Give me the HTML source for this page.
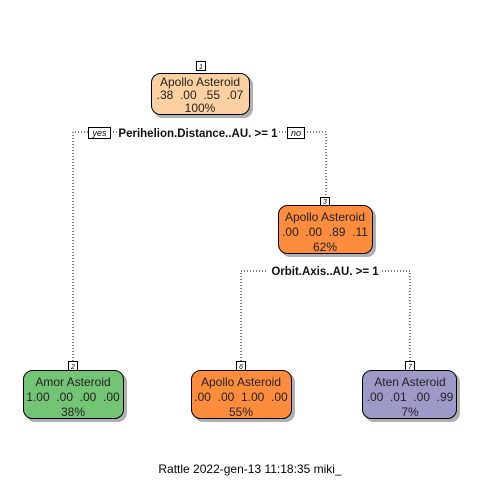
<!DOCTYPE html>
<html><head><style>body{margin:0;background:#fff}svg{display:block}text{white-space:pre}</style></head><body>
<svg width="480" height="480" viewBox="0 0 480 480" xmlns="http://www.w3.org/2000/svg" font-family="Liberation Sans, Arial, sans-serif">
<rect width="480" height="480" fill="#fff"/>
<g stroke="#000" stroke-dasharray="1,2" fill="none" stroke-width="1">
<path d="M73,361 V132 H88 M110,132 H118 M279,132 H287 M304,132 H326 V197"/>
<path d="M241,361 V271 H268 M382,271 H410 V361"/>
</g>
<g fill="#b0b0b0">
<rect x="154" y="76" width="99" height="42" rx="9"/>
<rect x="281" y="208" width="95" height="49" rx="9"/>
<rect x="26" y="373" width="101" height="49" rx="9"/>
<rect x="194" y="373" width="101" height="49" rx="9"/>
<rect x="365" y="373" width="95" height="49" rx="9"/>
</g>
<g stroke="#000" stroke-width="1">
<rect x="151.5" y="73.5" width="98" height="41" rx="9" fill="#FDD0A2"/>
<rect x="278.5" y="205.5" width="94" height="48" rx="9" fill="#FD8D3C"/>
<rect x="23.5" y="370.5" width="100" height="48" rx="9" fill="#74C476"/>
<rect x="191.5" y="370.5" width="100" height="48" rx="9" fill="#FD8D3C"/>
<rect x="362.5" y="370.5" width="94" height="48" rx="9" fill="#9E9AC8"/>
</g>
<g stroke="#000" fill="#fff" stroke-width="1">
<rect x="196.5" y="61.5" width="9" height="9"/>
<rect x="320.5" y="197.5" width="9" height="8"/>
<rect x="68.5" y="361.5" width="9" height="9"/>
<rect x="236.5" y="361.5" width="9" height="9"/>
<rect x="405.5" y="361.5" width="9" height="9"/>
<rect x="88.5" y="127.5" width="22" height="11"/>
<rect x="287.5" y="127.5" width="17" height="11"/>
</g>
<g font-size="7" font-style="italic" text-anchor="middle">
<text x="201" y="69">1</text><text x="325" y="204">3</text><text x="73" y="369">2</text><text x="241" y="369">6</text><text x="410" y="369">7</text>
</g>
<g font-size="9" font-style="italic" text-anchor="middle">
<text x="99.5" y="136">yes</text><text x="296" y="136">no</text>
</g>
<g font-size="11.5" font-weight="bold" text-anchor="middle" fill="#111">
<text x="198" y="137">Perihelion.Distance..AU. &gt;= 1</text>
<text x="325" y="275">Orbit.Axis..AU. &gt;= 1</text>
</g>
<g font-size="12" text-anchor="middle" fill="#222">
<text x="200" y="86">Apollo Asteroid</text><text x="200" y="99">.38  .00  .55  .07</text><text x="200" y="112">100%</text>
<text x="325" y="221">Apollo Asteroid</text><text x="325" y="236">.00  .00  .89  .11</text><text x="325" y="251">62%</text>
<text x="73" y="386">Amor Asteroid</text><text x="73" y="401">1.00  .00  .00  .00</text><text x="73" y="416">38%</text>
<text x="241" y="386">Apollo Asteroid</text><text x="241" y="401">.00  .00  1.00  .00</text><text x="241" y="416">55%</text>
<text x="410" y="386">Aten Asteroid</text><text x="410" y="401">.00  .01  .00  .99</text><text x="410" y="416">7%</text>
</g>
<text x="250" y="473" font-size="12" text-anchor="middle" fill="#000">Rattle 2022-gen-13 11:18:35 miki_</text>
</svg>
</body></html>
